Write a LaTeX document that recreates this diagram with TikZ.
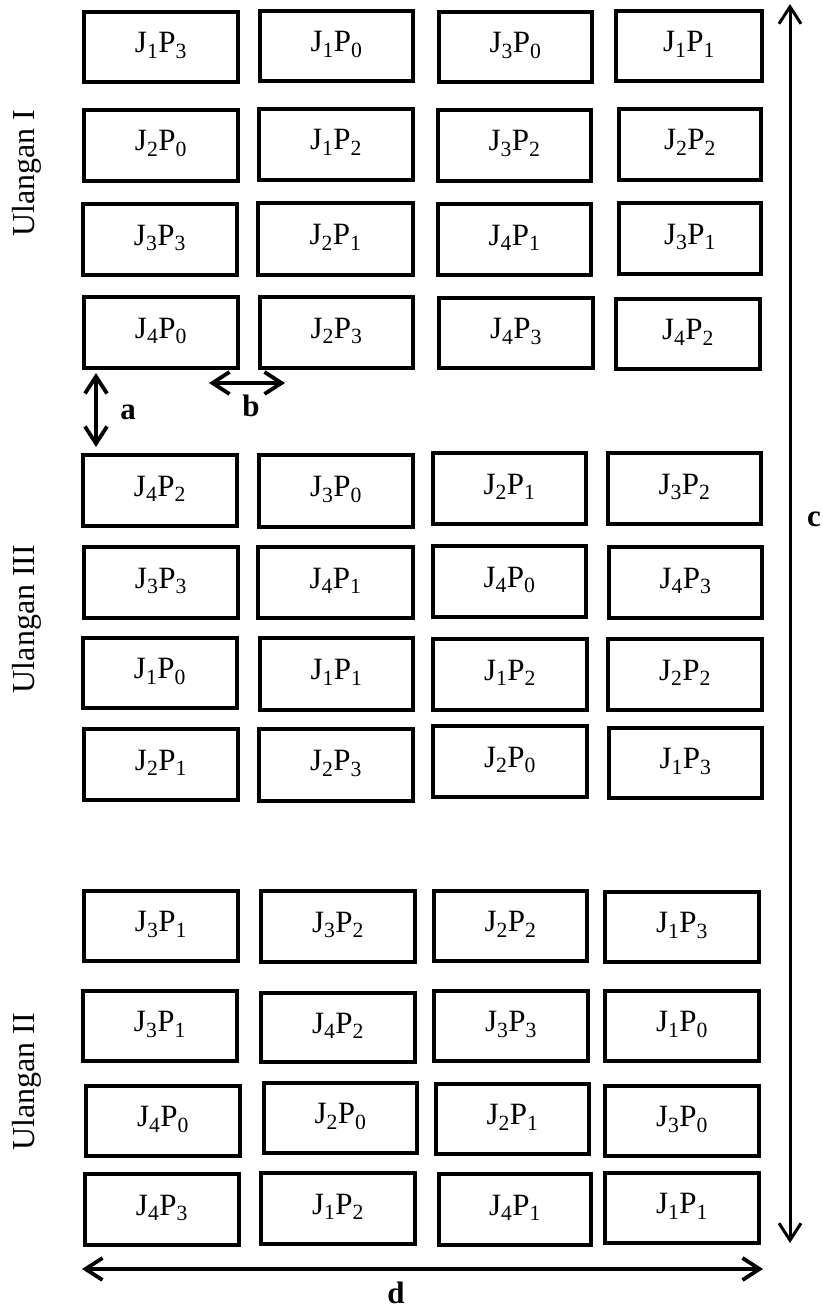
\documentclass[tikz,border=0pt]{standalone}
\usepackage{fontspec}
\setmainfont{Liberation Serif}
\usetikzlibrary{arrows.meta}
\newcommand\jp[2]{J\textsubscript{#1}P\textsubscript{#2}}
\newcommand\cell[6]{\node[cellbox,minimum width={#4pt-#2pt-3.6pt},minimum height={#5pt-#3pt-3.6pt}] (#1) at ({(#2+#4)/2},{(#3+#5)/2}) {#6};}
\tikzset{
  cellbox/.style={draw,line width=3.6pt,inner sep=0pt,text height=21pt,text depth=10pt,font=\fontsize{31}{37}\selectfont},
  barb/.style={Straight Barb[length=17pt,width=22pt]},
  dimarrow/.style={line width=3.8pt,{Straight Barb[length=17pt,width=22pt]}-{Straight Barb[length=17pt,width=22pt]}},
  dimlabel/.style={font=\fontsize{31}{37}\selectfont\bfseries,inner sep=0pt},
  replabel/.style={rotate=90,font=\fontsize{32}{38}\selectfont,inner sep=0pt}
}
\begin{document}
\begin{tikzpicture}[x=1pt,y=-1pt]
\useasboundingbox (0,0) rectangle (822,1308);
% Ulangan I
\cell{a1}{82}{10}{240}{84}{\jp13}
\cell{a2}{258}{9}{415}{83}{\jp10}
\cell{a3}{437}{10}{594}{84}{\jp30}
\cell{a4}{614}{9}{764}{83}{\jp11}
\cell{b1}{82}{108}{240}{183}{\jp20}
\cell{b2}{257}{107}{415}{182}{\jp12}
\cell{b3}{436}{108}{593}{183}{\jp32}
\cell{b4}{617}{107}{763}{182}{\jp22}
\cell{c1}{81}{202}{239}{277}{\jp33}
\cell{c2}{256}{201}{415}{277}{\jp21}
\cell{c3}{436}{202}{593}{277}{\jp41}
\cell{c4}{617}{201}{763}{276}{\jp31}
\cell{d1}{82}{295}{240}{370}{\jp40}
\cell{d2}{258}{295}{415}{370}{\jp23}
\cell{d3}{437}{296}{595}{370}{\jp43}
\cell{d4}{614}{297}{762}{371}{\jp42}
% Ulangan III
\cell{e1}{81}{453}{239}{528}{\jp42}
\cell{e2}{257}{453}{415}{529}{\jp30}
\cell{e3}{431}{451}{588}{526}{\jp21}
\cell{e4}{606}{451}{763}{526}{\jp32}
\cell{f1}{82}{545}{240}{620}{\jp33}
\cell{f2}{256}{545}{415}{620}{\jp41}
\cell{f3}{431}{544}{588}{619}{\jp40}
\cell{f4}{607}{545}{764}{620}{\jp43}
\cell{g1}{81}{636}{239}{710}{\jp10}
\cell{g2}{258}{636}{415}{712}{\jp11}
\cell{g3}{431}{637}{589}{712}{\jp12}
\cell{g4}{606}{637}{764}{712}{\jp22}
\cell{h1}{82}{727}{240}{802}{\jp21}
\cell{h2}{257}{727}{415}{803}{\jp23}
\cell{h3}{431}{724}{589}{799}{\jp20}
\cell{h4}{607}{726}{764}{800}{\jp13}
% Ulangan II
\cell{i1}{82}{889}{240}{963}{\jp31}
\cell{i2}{259}{889}{417}{964}{\jp32}
\cell{i3}{432}{889}{589}{963}{\jp22}
\cell{i4}{603}{890}{761}{964}{\jp13}
\cell{j1}{81}{989}{239}{1063}{\jp31}
\cell{j2}{259}{991}{417}{1064}{\jp42}
\cell{j3}{432}{989}{590}{1063}{\jp33}
\cell{j4}{603}{989}{761}{1063}{\jp10}
\cell{k1}{84}{1084}{242}{1158}{\jp40}
\cell{k2}{262}{1081}{419}{1155}{\jp20}
\cell{k3}{434}{1082}{591}{1156}{\jp21}
\cell{k4}{603}{1084}{761}{1158}{\jp30}
\cell{l1}{83}{1172}{241}{1247}{\jp43}
\cell{l2}{259}{1171}{417}{1246}{\jp12}
\cell{l3}{437}{1172}{593}{1247}{\jp41}
\cell{l4}{603}{1171}{761}{1245}{\jp11}
% side labels
\node[replabel] (u1) at (27,173) {Ulangan I};
\node[replabel] (u3) at (27,619) {Ulangan III};
\node[replabel] (u2) at (27,1082) {Ulangan II};
% dimension arrows
\coordinate (aT) at (96,373);
\coordinate (aB) at (96,447);
\coordinate (bL) at (209,383);
\coordinate (bR) at (285,383);
\coordinate (cT) at (790,4);
\coordinate (cB) at (790,1243);
\coordinate (dL) at (82,1269);
\coordinate (dR) at (763,1269);
\draw[dimarrow] (aT) -- (aB);
\draw[dimarrow] (bL) -- (bR);
\draw[dimarrow,line width=3pt] (cT) -- (cB);
\draw[dimarrow] (dL) -- (dR);
\node[dimlabel] (la) at (128,412) {a};
\node[dimlabel] (lb) at (251,406) {b};
\node[dimlabel] (lc) at (814,519) {c};
\node[dimlabel] (ld) at (396,1293) {d};
\end{tikzpicture}
\end{document}
